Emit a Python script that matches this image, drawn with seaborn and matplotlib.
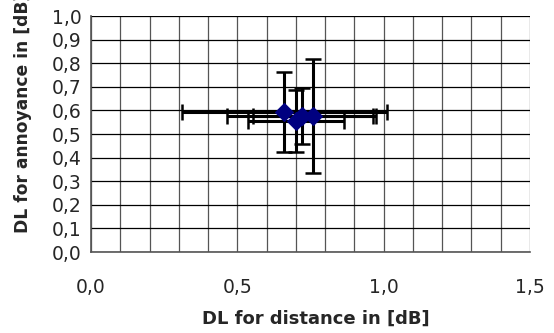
import numpy as np
import pandas as pd
import matplotlib
matplotlib.use('Agg')
import matplotlib.pyplot as plt
import seaborn as sns

# DL values
dl_distance = [0.66, 0.70, 0.72, 0.758]
dl_annoyance = [0.593, 0.555, 0.576, 0.576]
err_distance = [0.35, 0.165, 0.255, 0.205]
err_annoyance = [0.17, 0.13, 0.12, 0.24]

df = pd.DataFrame({'dist': dl_distance, 'ann': dl_annoyance})

sns.set_style('white')
plt.rcParams['font.family'] = ['DejaVu Sans']

fig = plt.figure(figsize=(5.54, 3.33), dpi=100)
ax = fig.add_axes([91/554, 1-252/333, (530-91)/554, (252-16)/333])

ax.errorbar(df['dist'], df['ann'], xerr=err_distance, yerr=err_annoyance,
            fmt='none', ecolor='black', elinewidth=2.2, capsize=5.5, capthick=1.8, zorder=3)
sns.scatterplot(data=df, x='dist', y='ann', marker='D', s=85, color='#000080',
                edgecolor='#000080', ax=ax, zorder=4, legend=False)

ax.set_xlim(0, 1.5)
ax.set_ylim(0, 1.0)
ax.set_xticks(np.arange(0, 1.51, 0.1), minor=True)
ax.set_xticks([0, 0.5, 1.0, 1.5])
ax.set_yticks(np.arange(0, 1.01, 0.1))
ax.set_xticklabels(['0,0', '0,5', '1,0', '1,5'])
ax.set_yticklabels([f'{v:.1f}'.replace('.', ',') for v in np.arange(0, 1.01, 0.1)])

ax.grid(True, which='major', axis='y', color='black', linewidth=0.9)
ax.grid(True, which='both', axis='x', color='#555555', linewidth=0.9)
ax.tick_params(axis='x', which='major', direction='out', length=5, width=1, pad=14, labelsize=13.5)
ax.tick_params(axis='x', which='minor', length=0)
ax.tick_params(axis='y', direction='out', length=5, width=1, pad=2, labelsize=13.5)
for s in ['top', 'right']:
    ax.spines[s].set_visible(False)
for s in ['left', 'bottom']:
    ax.spines[s].set_color('#555555')
    ax.spines[s].set_linewidth(1.2)

ax.set_xlabel('')
ax.set_ylabel('')
fig.text(316/554, 1-319/333, 'DL for distance in [dB]', ha='center', va='center',
         fontsize=13, fontweight='bold')
fig.text(23/554, 1-233/333, 'DL for annoyance in [dB]', ha='center', va='bottom',
         rotation=90, fontsize=12.3, fontweight='bold')

fig.savefig('out.png', dpi=100)
